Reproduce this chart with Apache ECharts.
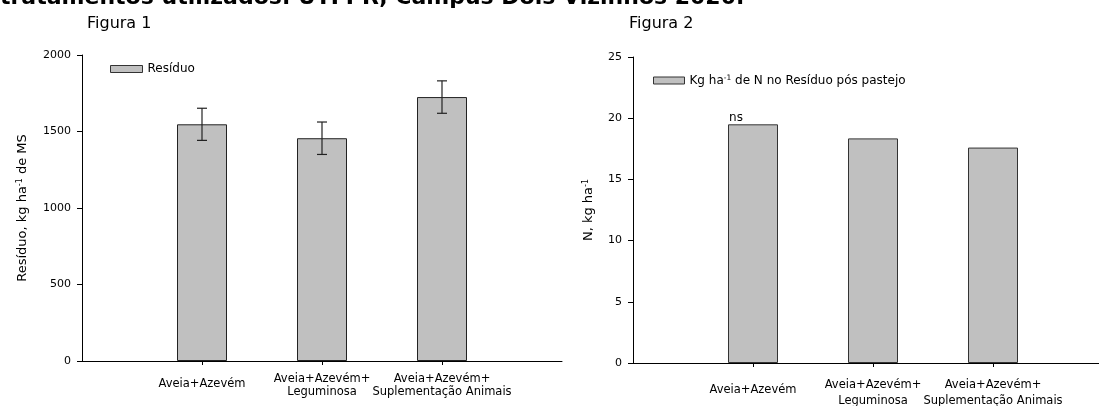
<!DOCTYPE html>
<html>
<head>
<meta charset="utf-8">
<script src="https://cdn.jsdelivr.net/npm/echarts@6/dist/echarts.min.js"></script>
<style>html,body{margin:0;padding:0;background:#fff}#c{width:1099px;height:406px}</style>
</head>
<body>
<div id="c"></div>
<script>
// ---- data ----
const categories = ['', 'Aveia+Azevém', 'Aveia+Azevém+\nLeguminosa', 'Aveia+Azevém+\nSuplementação Animais', ''];
const residuo = [1547, 1456, 1725];
const residuoErr = [105, 106, 106];
const nitrogenio = [19.5, 18.35, 17.6];
const nitrogenioLabels = ['ns', '', ''];
const yTicks1 = [0, 500, 1000, 1500, 2000];
const yTicks2 = [0, 5, 10, 15, 20, 25];
const pageTitle = 'tratamentos utilizados. UTFPR, Campus Dois Vizinhos 2020.';
const figTitles = ['Figura 1', 'Figura 2'];
const seriesNames = ['Resíduo', 'Kg ha-1 de N no Resíduo pós pastejo'];

const FF = 'DejaVu Sans';
const pad = arr => ['-', ...arr, '-'];

function xAxisCfg(gridIndex, margin, lineHeight, singlePad) {
  return {
    type: 'category', gridIndex, data: categories, boundaryGap: false,
    axisLine: {lineStyle: {color: '#000', width: 1}},
    axisTick: {length: 4, lineStyle: {color: '#000'}, interval: (i) => i >= 1 && i <= 3},
    axisLabel: {
      interval: 0, margin, color: '#000', fontFamily: FF, fontSize: 11.5, lineHeight,
      formatter: v => v.indexOf('\n') >= 0 ? v : (v ? '{s|' + v + '}' : ''),
      rich: {s: {fontFamily: FF, fontSize: 11.5, color: '#000', lineHeight, padding: [singlePad, 0, 0, 0]}}
    },
    splitLine: {show: false}
  };
}
function yAxisCfg(gridIndex, ticks, name, nameGap) {
  return {
    type: 'value', gridIndex, min: ticks[0], max: ticks[ticks.length - 1], interval: ticks[1] - ticks[0],
    axisLine: {show: true, lineStyle: {color: '#000', width: 1}},
    axisTick: {show: true, length: 5, lineStyle: {color: '#000'}},
    axisLabel: {margin: 11, color: '#000', fontFamily: FF, fontSize: 11, formatter: v => String(v)},
    splitLine: {show: false},
    name, nameLocation: 'middle', nameRotate: 90, nameGap,
    nameTextStyle: {fontFamily: FF, fontSize: 13, color: '#000',
      rich: {sup: {fontFamily: FF, fontSize: 8, color: '#000', verticalAlign: 'top', padding: [0, 0, 6, 0]}}}
  };
}

const errData = residuo.map((v, i) => [i + 1, v, residuoErr[i]]);

const option = {
  animation: false,
  backgroundColor: '#fff',
  textStyle: {fontFamily: FF},
  grid: [
    {left: 82, top: 55, width: 480, bottom: 406 - 361, outerBoundsMode: 'none', containLabel: false},
    {left: 633, top: 57, width: 480, bottom: 406 - 363, outerBoundsMode: 'none', containLabel: false}
  ],
  xAxis: [xAxisCfg(0, 12, 13, 9), xAxisCfg(1, 14.5, 16, 10)],
  yAxis: [
    yAxisCfg(0, yTicks1, 'Resíduo, kg ha{sup|-1} de MS', 52),
    yAxisCfg(1, yTicks2, 'N, kg ha{sup|-1}', 37)
  ],
  legend: [
    {data: [seriesNames[0]], left: 110, top: 63, padding: 0, itemWidth: 32, itemHeight: 7,
     textStyle: {fontFamily: FF, fontSize: 12, color: '#000'}, icon: 'rect',
     itemStyle: {borderColor: '#333', borderWidth: 1}},
    {data: [seriesNames[1]], left: 653, top: 74, padding: 0, itemWidth: 31, itemHeight: 7,
     textStyle: {fontFamily: FF, fontSize: 12, color: '#000',
       rich: {sup: {fontFamily: FF, fontSize: 7.5, color: '#000', verticalAlign: 'top', padding: [0, 0, 5, 0]}}},
     formatter: n => n.replace('-1', '{sup|-1}'), icon: 'rect',
     itemStyle: {borderColor: '#333', borderWidth: 1}}
  ],
  graphic: [
    {type: 'text', left: 0, top: -13, style: {text: pageTitle, font: 'bold 22px "DejaVu Sans"', fill: '#000'}},
    {type: 'text', x: 87, y: 23.5, style: {text: figTitles[0], fontFamily: FF, fontSize: 16, fill: '#000', verticalAlign: 'middle'}},
    {type: 'text', x: 629, y: 23.5, style: {text: figTitles[1], fontFamily: FF, fontSize: 16, fill: '#000', verticalAlign: 'middle'}}
  ],
  series: [
    {
      name: seriesNames[0], type: 'bar', xAxisIndex: 0, yAxisIndex: 0, barWidth: 50,
      data: pad(residuo),
      itemStyle: {color: '#c0c0c0', borderColor: '#222', borderWidth: 1}
    },
    {
      type: 'custom', xAxisIndex: 0, yAxisIndex: 0, data: errData, z: 5,
      renderItem: (params, api) => {
        const x = api.value(0), v = api.value(1), e = api.value(2);
        const top = api.coord([x, v + e]);
        const bot = api.coord([x, v - e]);
        const w = 5;
        const st = {stroke: '#222', lineWidth: 1.2};
        return {type: 'group', children: [
          {type: 'line', shape: {x1: top[0], y1: top[1], x2: bot[0], y2: bot[1]}, style: st},
          {type: 'line', shape: {x1: top[0] - w, y1: top[1], x2: top[0] + w, y2: top[1]}, style: st},
          {type: 'line', shape: {x1: bot[0] - w, y1: bot[1], x2: bot[0] + w, y2: bot[1]}, style: st}
        ]};
      }
    },
    {
      name: seriesNames[1], type: 'bar', xAxisIndex: 1, yAxisIndex: 1, barWidth: 50,
      data: pad(nitrogenio.map((v, i) => ({
        value: v,
        label: {show: !!nitrogenioLabels[i], formatter: nitrogenioLabels[i], position: 'top', distance: 0,
                offset: [-17, 0], fontFamily: FF, fontSize: 12, color: '#000'}
      }))),
      itemStyle: {color: '#c0c0c0', borderColor: '#333', borderWidth: 1}
    }
  ]
};
const chart = echarts.init(document.getElementById('c'), null, {renderer: 'canvas'});
chart.setOption(option);
</script>
</body>
</html>
